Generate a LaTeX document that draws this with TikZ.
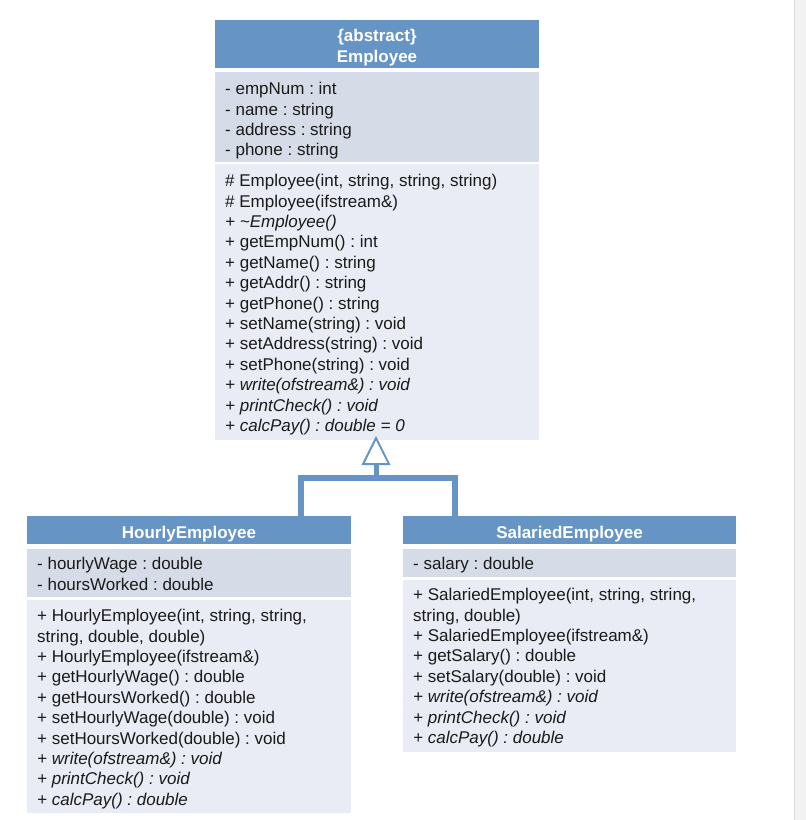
\documentclass[tikz,border=0pt]{standalone}
\usepackage{fontspec}
\setmainfont{Liberation Sans}
\frenchspacing
\definecolor{hdrblue}{HTML}{6594C5}
\definecolor{attrgray}{HTML}{D6DCE7}
\definecolor{methgray}{HTML}{E9ECF4}
\definecolor{txtc}{HTML}{1A1A1A}
\definecolor{scrollfill}{HTML}{F2F2F2}
\definecolor{scrollline}{HTML}{DDDDDD}
\tikzset{
  boxbase/.style={draw=none, inner sep=0pt, outer sep=0pt, anchor=north west},
  hdr/.style={boxbase, fill=hdrblue},
  attrbox/.style={boxbase, fill=attrgray},
  methbox/.style={boxbase, fill=methgray},
  txt/.style={inner sep=0pt, anchor=north west, align=left, text=txtc,
    font=\frenchspacing\fontsize{17}{20.4}\selectfont},
  htxt/.style={inner sep=0pt, align=center, text=white,
    font=\bfseries\fontsize{17}{20.4}\selectfont},
  conn/.style={draw=hdrblue, line width=6pt, line join=miter},
  stem/.style={draw=hdrblue, line width=5pt},
  tri/.style={draw=hdrblue, line width=2pt, fill=white, line join=miter},
}
\begin{document}
\begin{tikzpicture}[x=1pt, y=-1pt]
\useasboundingbox (0,0) rectangle (806,820);
% scrollbar strip
\fill[scrollfill] (794,0) rectangle (806,820);
\draw[scrollline, line width=1pt] (794.5,0) -- (794.5,820);

% ---------- Employee ----------
\node[hdr, minimum width=324pt, minimum height=48pt] (emphdr) at (215,20) {};
\node[attrbox, minimum width=324pt, minimum height=90pt] (empattrbox) at (215,72) {};
\node[methbox, minimum width=324pt, minimum height=276pt] (empmethbox) at (215,164) {};
\node[htxt, anchor=north] (emptitle) at (377,27.5) {\strut\{abstract\}\\\strut Employee};
\node[txt] (empattr) at (225,80.2) {%
\strut- empNum : int\\
\strut- name : string\\
\strut- address : string\\
\strut- phone : string};
\node[txt] (empmeth) at (225,172.2) {%
\strut\# Employee(int, string, string, string)\\
\strut\# Employee(ifstream\&)\\
\strut\textit{+ \textasciitilde Employee()}\\
\strut+ getEmpNum() : int\\
\strut+ getName() : string\\
\strut+ getAddr() : string\\
\strut+ getPhone() : string\\
\strut+ setName(string) : void\\
\strut+ setAddress(string) : void\\
\strut+ setPhone(string) : void\\
\strut\textit{+ write(ofstream\&) : void}\\
\strut\textit{+ printCheck() : void}\\
\strut\textit{+ calcPay() : double = 0}};

% ---------- HourlyEmployee ----------
\node[hdr, minimum width=324pt, minimum height=28pt] (hourhdr) at (27,516) {};
\node[attrbox, minimum width=324pt, minimum height=48pt] (hourattrbox) at (27,549) {};
\node[methbox, minimum width=324pt, minimum height=213pt] (hourmethbox) at (27,600) {};
\node[htxt, anchor=base] (hourtitle) at (189,538) {HourlyEmployee};
\node[txt] (hourattr) at (37,555.2) {%
\strut- hourlyWage : double\\
\strut- hoursWorked : double};
\node[txt] (hourmeth) at (37,607.2) {%
\strut+ HourlyEmployee(int, string, string,\\
\strut string, double, double)\\
\strut+ HourlyEmployee(ifstream\&)\\
\strut+ getHourlyWage() : double\\
\strut+ getHoursWorked() : double\\
\strut+ setHourlyWage(double) : void\\
\strut+ setHoursWorked(double) : void\\
\strut\textit{+ write(ofstream\&) : void}\\
\strut\textit{+ printCheck() : void}\\
\strut\textit{+ calcPay() : double}};

% ---------- SalariedEmployee ----------
\node[hdr, minimum width=333pt, minimum height=28pt] (salhdr) at (403,516) {};
\node[attrbox, minimum width=333pt, minimum height=28pt] (salattrbox) at (403,549) {};
\node[methbox, minimum width=333pt, minimum height=172pt] (salmethbox) at (403,580) {};
\node[htxt, anchor=base] (saltitle) at (569.5,538) {SalariedEmployee};
\node[txt] (salattr) at (413,555.2) {%
\strut- salary : double};
\node[txt] (salmeth) at (413,586.2) {%
\strut+ SalariedEmployee(int, string, string,\\
\strut string, double)\\
\strut+ SalariedEmployee(ifstream\&)\\
\strut+ getSalary() : double\\
\strut+ setSalary(double) : void\\
\strut\textit{+ write(ofstream\&) : void}\\
\strut\textit{+ printCheck() : void}\\
\strut\textit{+ calcPay() : double}};

% ---------- inheritance connector ----------
\coordinate (apex) at (376,438);
\coordinate (tribase) at (376,464);
\coordinate (joint) at (376,478);
\coordinate (hcorner) at (301,478);
\coordinate (scorner) at (455,478);
\coordinate (hjoin) at (301,516);
\coordinate (sjoin) at (455,516);
\draw[stem] (tribase) -- (joint);
\draw[conn] (hjoin) -- (hcorner) -- (scorner) -- (sjoin);
\draw[tri] (apex) -- (389,464) -- (363,464) -- cycle;
\end{tikzpicture}
\end{document}
